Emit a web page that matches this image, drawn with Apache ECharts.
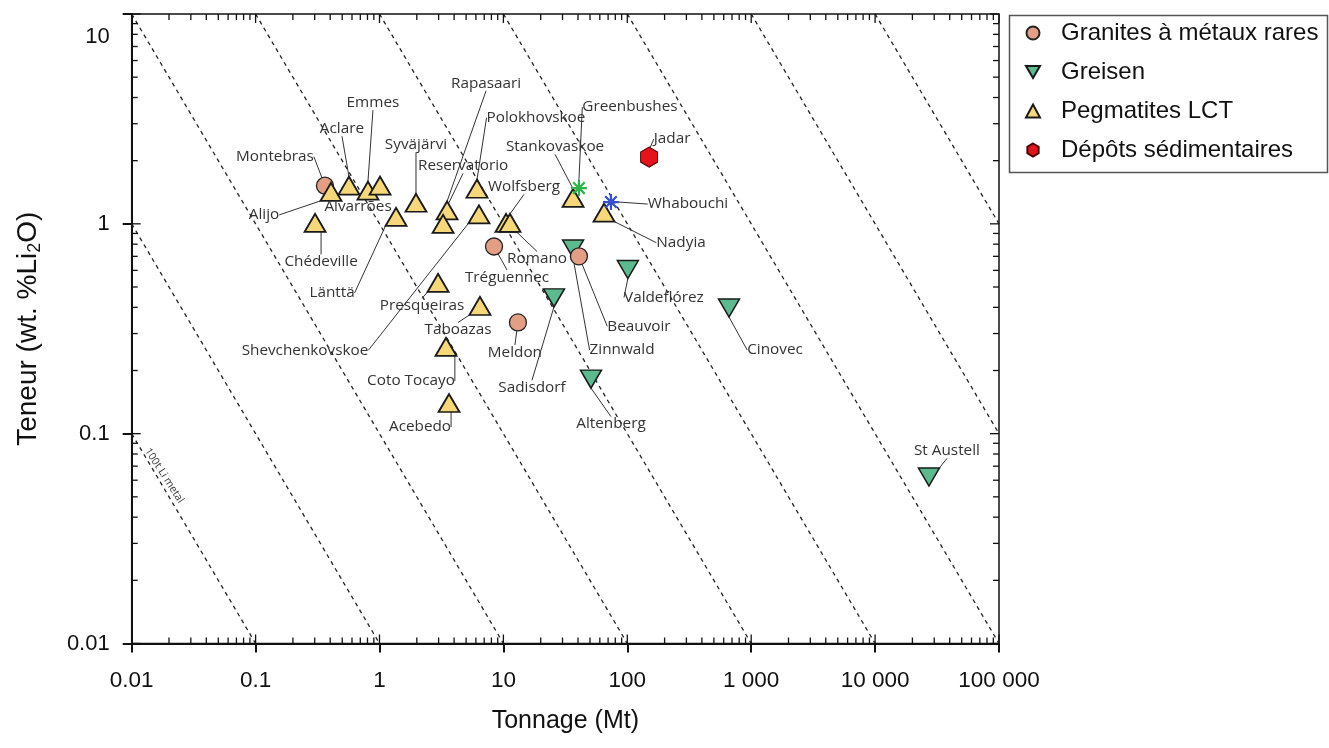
<!DOCTYPE html>
<html><head><meta charset="utf-8">
<script src="https://cdn.jsdelivr.net/npm/echarts@6/dist/echarts.min.js"></script>
<style>html,body{margin:0;padding:0;background:#fff}#c{width:1329px;height:748px}</style>
</head><body><div id="c"></div>
<script>
// ---------- data ----------
const xTickLabels = ['0.01','0.1','1','10','100','1 000','10 000','100 000'];
const yTickLabels = ['0.01','0.1','1','10'];

const granitesNames   = ['Montebras','Tréguennec','Beauvoir','Meldon'];
const granitesTonnage = [0.363, 8.40, 40.7, 13.1];
const granitesGrade   = [1.52, 0.78, 0.70, 0.339];

const greisenNames   = ['Zinnwald','Valdeflórez','Cinovec','Sadisdorf','Altenberg','St Austell'];
const greisenTonnage = [36.5, 101, 662, 25.6, 50.9, 27200];
const greisenGrade   = [0.759, 0.606, 0.397, 0.444, 0.182, 0.0622];

const pegNames   = ['Alijo','Chédeville','Aclare','Emmes','Alvarrões','Syväjärvi','Länttä','Rapasaari','Reservatorio','Polokhovskoe','Shevchenkovskoe','Romano','Wolfsberg','Stankovaskoe','Nadyia','Presqueiras','Taboazas','Coto Tocayo','Acebedo'];
const pegTonnage = [0.406,0.302,0.567,0.807,1.01,1.97,1.36,3.51,3.26,6.12,6.35,10.5,11.3,36.5,64.9,2.97,6.47,3.44,3.64];
const pegGrade   = [1.42,1.01,1.52,1.44,1.52,1.26,1.08,1.16,1.00,1.47,1.11,1.01,1.01,1.33,1.13,0.523,0.406,0.259,0.140];

const sedNames   = ['Jadar'];
const sedTonnage = [150];
const sedGrade   = [2.08];

const greenbushesTonnage = [40.7];
const greenbushesGrade   = [1.48];
const whabouchiTonnage   = [73.8];
const whabouchiGrade     = [1.27];

// iso-metal reference lines: tonnage x grade = constant
const isoMetal = [0.001, 0.01, 0.1, 1, 10, 100, 1000, 10000, 100000, 1000000];

// ---------- layout (label placement, not data) ----------
const labelOffsets = {
  'Montebras':[-50,-29],'Tréguennec':[13,31],'Beauvoir':[60,70],'Meldon':[-3,30],
  'Zinnwald':[49,101],'Valdeflórez':[36,28],'Cinovec':[46,42],'Sadisdorf':[-22,90],'Altenberg':[20,45],'St Austell':[18,-26],
  'Alijo':[-67,23],'Chédeville':[6,39],'Aclare':[-7,-57],'Emmes':[5,-88],'Alvarrões':[-22,21],'Syväjärvi':[0,-58],
  'Länttä':[-64,76],'Rapasaari':[39,-127],'Reservatorio':[20,-58],'Polokhovskoe':[59,-71],'Shevchenkovskoe':[-174,136],
  'Romano':[31,36],'Wolfsberg':[14,-36],'Stankovaskoe':[-18,-51],'Nadyia':[77,30],'Presqueiras':[-16,23],
  'Taboazas':[-22,24],'Coto Tocayo':[-35,34],'Acebedo':[-29,24],
  'Jadar':[23,-18],'Greenbushes':[51,-81],'Whabouchi':[77,2]
};

const X_MIN = 0.01, X_MAX = 100000, Y_MIN = 0.01, Y_MAX = 10;

function pts(names, xs, ys){ return xs.map((x,i)=>({name: names ? names[i] : '', value:[x, ys[i]]})); }

const labelCommon = {
  show: true, position: 'inside', formatter: '{b}',
  fontFamily: 'Open Sans', fontSize: 15.3, color: '#333'
};
const labelLineCommon = { show: true, lineStyle: { color: '#333', width: 1 } };
function layoutFn(p){ const o = labelOffsets[p.text]; return o ? {dx:o[0], dy:o[1]} : {}; }

// minor ticks (axis decoration)
const xMinor = [], yMinor = [];
for (let e=-2; e<5; e++) for (let m=2; m<10; m++) xMinor.push([m*Math.pow(10,e), 1]);
for (let e=-2; e<1; e++) for (let m=2; m<10; m++) yMinor.push([1, m*Math.pow(10,e)]);
const xMajor = xTickLabels.map((_,i)=>[Math.pow(10,i-2),1]);
const yMajor = yTickLabels.map((_,i)=>[1,Math.pow(10,i-2)]);

function tickRenderer(dir, len){
  return function(params, api){
    const cs = params.coordSys;
    const st = {stroke:'#111', lineWidth:1.3};
    if (dir==='x'){
      const x = api.coord([api.value(0), 1])[0];
      const b = cs.y + cs.height, t = cs.y;
      return {type:'group', children:[
        {type:'line', shape:{x1:x,y1:b,x2:x,y2:b-len}, style:st},
        {type:'line', shape:{x1:x,y1:t,x2:x,y2:t+len}, style:st}]};
    } else {
      const y = api.coord([1, api.value(1)])[1];
      const l = cs.x, r = cs.x + cs.width;
      return {type:'group', children:[
        {type:'line', shape:{x1:l,y1:y,x2:l+len,y2:y}, style:st},
        {type:'line', shape:{x1:r,y1:y,x2:r-len,y2:y}, style:st}]};
    }
  };
}

const isoSeries = isoMetal.map(c=>{
  const x1 = Math.max(X_MIN, c / Y_MAX), x2 = Math.min(X_MAX, c / Y_MIN);
  if (!(x1 < x2)) return null;
  return {
    type:'line', silent:true, symbol:'none', z:1,
    data:[[x1, c/x1],[x2, c/x2]],
    lineStyle:{color:'#222', width:1.3, type:[4,4]}, animation:false
  };
}).filter(Boolean);

const hexPath = 'path://M0,-1 L0.866,-0.5 L0.866,0.5 L0,1 L-0.866,0.5 L-0.866,-0.5 Z';
const starPath = 'path://M0,-1 L0,1 M-1,0 L1,0 M-0.72,-0.72 L0.72,0.72 M-0.72,0.72 L0.72,-0.72';
const downTri = 'path://M0,0 L20,0 L10,17 Z';

const chart = echarts.init(document.getElementById('c'), null, {renderer:'canvas'});
const option = {
  animation: false,
  backgroundColor: '#fff',
  grid: { left: 131.7, right: 330, top: 14, bottom: 104.5, show: true, borderColor: '#111', borderWidth: 1.5, outerBoundsMode: 'none' },
  legend: {
    data: [
      {name:'Granites à métaux rares', icon:'circle'},
      {name:'Greisen', icon: downTri},
      {name:'Pegmatites LCT', icon:'triangle'},
      {name:'Dépôts sédimentaires', icon: hexPath}
    ],
    orient: 'vertical', left: 1025, top: 20, padding: 0,
    itemWidth: 14, itemHeight: 13, itemGap: 13,
    textStyle: { fontFamily: 'Liberation Sans', fontSize: 24, color: '#111', lineHeight: 26, padding: [0,0,0,16] }
  },
  xAxis: {
    type: 'log', logBase: 10, min: X_MIN, max: X_MAX, interval: 1,
    name: 'Tonnage (Mt)', nameLocation: 'middle', nameGap: 65,
    nameTextStyle: { fontFamily: 'Liberation Sans', fontSize: 25, color: '#111' },
    axisLine: { show: true, lineStyle: { color: '#111', width: 2 } },
    axisTick: { show: true, length: 9, lineStyle: { color: '#111', width: 2 } },
    splitLine: { show: false }, minorTick: { show: false },
    axisLabel: {
      margin: 26, fontFamily: 'Liberation Sans', fontSize: 22.5, color: '#111',
      formatter: v => xTickLabels[Math.round(Math.log10(v)) + 2]
    }
  },
  yAxis: {
    type: 'log', logBase: 10, min: Y_MIN, max: Y_MAX, interval: 1,
    name: 'Teneur (wt. %Li{sub|2}O)', nameLocation: 'middle', nameGap: 88, nameRotate: 90,
    nameTextStyle: { fontFamily: 'Liberation Sans', fontSize: 28, color: '#111',
      rich: { sub: { fontFamily: 'Liberation Sans', fontSize: 18, color: '#111', verticalAlign: 'bottom', padding: [12,0,0,0] } } },
    axisLine: { show: true, lineStyle: { color: '#111', width: 2 } },
    axisTick: { show: true, length: 9, lineStyle: { color: '#111', width: 2 } },
    splitLine: { show: false },
    axisLabel: {
      margin: 22, fontFamily: 'Liberation Sans', fontSize: 22, color: '#111',
      formatter: v => { const i = Math.round(Math.log10(v)) + 2; const t = yTickLabels[i]; return i === 3 ? '{low|' + t + '}' : t; },
      rich: { low: { fontFamily: 'Liberation Sans', fontSize: 22, color: '#111', padding: [46,0,0,0] } }
    }
  },
  series: [
    ...isoSeries,
    { type:'custom', silent:true, renderItem: tickRenderer('x', 6), data: xMinor, z:5, clip:false },
    { type:'custom', silent:true, renderItem: tickRenderer('y', 6), data: yMinor, z:5, clip:false },
    { type:'custom', silent:true, renderItem: tickRenderer('x', 9), data: xMajor, z:5, clip:false },
    { type:'custom', silent:true, renderItem: tickRenderer('y', 9), data: yMajor, z:5, clip:false },
    {
      name: 'Greisen', type: 'scatter', z: 10,
      symbol: 'triangle', symbolRotate: 180, symbolSize: [21,18],
      itemStyle: { color: '#5DBA8E', borderColor: '#1a1a1a', borderWidth: 1.5, opacity: 1 },
      label: labelCommon, labelLine: labelLineCommon, labelLayout: layoutFn,
      data: pts(greisenNames, greisenTonnage, greisenGrade)
    },
    {
      name: 'Granites à métaux rares', type: 'scatter', z: 10,
      symbol: 'circle', symbolSize: 17,
      itemStyle: { color: '#E39E86', borderColor: '#222', borderWidth: 1.3, opacity: 1 },
      label: labelCommon, labelLine: labelLineCommon, labelLayout: layoutFn,
      data: pts(granitesNames, granitesTonnage, granitesGrade)
    },
    {
      name: 'Pegmatites LCT', type: 'scatter', z: 11,
      symbol: 'triangle', symbolSize: [21,18],
      itemStyle: { color: '#F6D77B', borderColor: '#1a1a1a', borderWidth: 1.8, opacity: 1 },
      label: labelCommon, labelLine: labelLineCommon, labelLayout: layoutFn,
      data: pts(pegNames, pegTonnage, pegGrade)
    },
    {
      name: 'Dépôts sédimentaires', type: 'scatter', z: 10,
      symbol: hexPath, symbolSize: [17,20],
      itemStyle: { color: '#E3141C', borderColor: '#4a0000', borderWidth: 1, opacity: 1 },
      label: labelCommon, labelLine: labelLineCommon, labelLayout: layoutFn,
      data: pts(sedNames, sedTonnage, sedGrade)
    },
    {
      name: 'Greenbushes', type: 'scatter', z: 12,
      symbol: starPath, symbolSize: 16,
      itemStyle: { color: 'rgba(0,0,0,0)', borderColor: '#2DB34A', borderWidth: 2.2, opacity: 1 },
      label: labelCommon, labelLine: labelLineCommon, labelLayout: layoutFn,
      data: pts(['Greenbushes'], greenbushesTonnage, greenbushesGrade)
    },
    {
      name: 'Whabouchi', type: 'scatter', z: 12,
      symbol: starPath, symbolSize: 16,
      itemStyle: { color: 'rgba(0,0,0,0)', borderColor: '#3550C8', borderWidth: 2.2, opacity: 1 },
      label: labelCommon, labelLine: labelLineCommon, labelLayout: layoutFn,
      data: pts(['Whabouchi'], whabouchiTonnage, whabouchiGrade)
    }
  ]
};
chart.setOption(option);

// legend frame + iso-line caption, positioned via the chart's own scales
const cap = chart.convertToPixel({gridIndex:0}, [0.0155, isoMetal[0]/0.0155]);
chart.setOption({
  graphic: [
    { type:'rect', shape:{x:1009.5, y:15.5, width:318, height:157}, style:{fill:'none', stroke:'#555', lineWidth:1.5}, silent:true },
    { type:'text', x: cap[0] + 9, y: cap[1] + 2, rotation: -57*Math.PI/180,
      style:{ text:'100t Li metal', fontFamily:'Open Sans', fontSize:10.5, fill:'#333', align:'center', verticalAlign:'middle', backgroundColor:'#fff' }, silent:true }
  ]
});
</script></body></html>
